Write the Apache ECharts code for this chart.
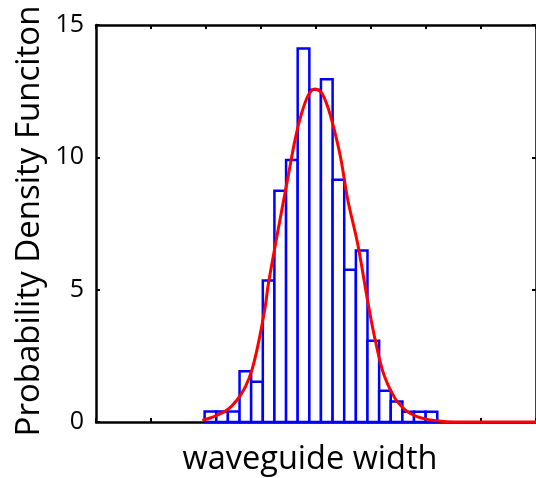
<!DOCTYPE html>
<html>
<head>
<meta charset="utf-8">
<script src="https://cdn.jsdelivr.net/npm/echarts@6/dist/echarts.min.js"></script>
<style>
html,body{margin:0;padding:0;background:#fff;}
#chart{width:536px;height:478px;}
</style>
</head>
<body>
<div id="chart"></div>
<script>
// Histogram bin edges (arbitrary width units, axis ticks at integers)
var binEdges = [1.975, 2.187, 2.398, 2.610, 2.821, 3.033, 3.244, 3.456, 3.667, 3.879, 4.090,
                4.302, 4.513, 4.725, 4.936, 5.148, 5.359, 5.571, 5.782, 5.994, 6.205];
// Histogram densities
var binValues = [0.4, 0.4, 0.4, 1.92, 1.52, 5.35, 8.74, 9.9, 14.11, 12.55,
                 12.95, 9.15, 5.75, 6.48, 3.07, 1.18, 0.77, 0.39, 0.39, 0.39];
// Fitted PDF curve
var curveX = [1.933, 2.144, 2.384, 2.564, 2.715, 2.834, 2.955, 3.076, 3.135, 3.315, 3.495, 3.616,
              3.735, 3.856, 3.977, 4.096, 4.216, 4.337, 4.456, 4.577, 4.757, 4.937, 5.027, 5.117,
              5.207, 5.297, 5.387, 5.477, 5.658, 5.838, 6.018, 6.198, 6.378, 6.739, 8.0];
var curveY = [0.06, 0.2, 0.45, 0.83, 1.33, 1.96, 3.0, 4.35, 5.23, 7.3, 9.3, 10.63,
              11.64, 12.33, 12.58, 12.45, 11.89, 11.0, 9.9, 8.4, 6.74, 4.6, 3.59, 2.71,
              1.96, 1.46, 1.08, 0.77, 0.39, 0.2, 0.1, 0.05, 0.01, 0, 0];
var yTicks = [0, 5, 10, 15];
var xLabel = 'waveguide width';
var yLabel = 'Probability Density Funciton';

var histData = binValues.map(function (v, i) { return [binEdges[i], binEdges[i + 1], v]; });
var curveData = curveX.map(function (x, i) { return [x, curveY[i]]; });

var FONT = '"Open Sans", sans-serif';
var chart = echarts.init(document.getElementById('chart'), null, {renderer: 'canvas'});

var xCommon = {
  type: 'value', min: 0, max: 8, interval: 1,
  axisLine: {show: true, onZero: false, lineStyle: {color: '#000', width: 2.5}},
  axisTick: {show: true, inside: true, length: 4, lineStyle: {color: '#000', width: 2}},
  axisLabel: {show: false}, splitLine: {show: false}
};
var yCommon = {
  type: 'value', min: yTicks[0], max: yTicks[yTicks.length - 1], interval: 5,
  axisLine: {show: true, onZero: false, lineStyle: {color: '#000', width: 2.5}},
  axisTick: {show: true, inside: true, length: 4, lineStyle: {color: '#000', width: 2}},
  splitLine: {show: false}
};

chart.setOption({
  animation: false,
  backgroundColor: '#fff',
  grid: {left: 96, top: 25, width: 444, height: 397, containLabel: false},
  xAxis: [
    Object.assign({}, xCommon, {position: 'bottom'}),
    Object.assign({}, xCommon, {position: 'top'})
  ],
  yAxis: [
    Object.assign({}, yCommon, {position: 'left',
      axisLabel: {show: true, color: '#000', fontSize: 25, fontFamily: FONT, margin: 12}}),
    Object.assign({}, yCommon, {position: 'right', axisLabel: {show: false}})
  ],
  graphic: [
    {type: 'text', x: 310, y: 460,
     style: {text: xLabel, fill: '#000', font: '32.5px ' + FONT, textAlign: 'center', textVerticalAlign: 'middle'}},
    {type: 'text', x: 30, y: 221, rotation: Math.PI / 2,
     style: {text: yLabel, fill: '#000', font: '33px ' + FONT, textAlign: 'center', textVerticalAlign: 'middle'}}
  ],
  series: [
    {
      type: 'custom',
      xAxisIndex: 0, yAxisIndex: 0,
      data: histData,
      renderItem: function (params, api) {
        var p0 = api.coord([api.value(0), 0]);
        var p1 = api.coord([api.value(1), api.value(2)]);
        return {
          type: 'rect',
          shape: {x: p0[0], y: p1[1], width: p1[0] - p0[0], height: p0[1] - p1[1]},
          style: {fill: '#fff', stroke: '#0000ff', lineWidth: 2.5}
        };
      },
      z: 2
    },
    {
      type: 'line',
      xAxisIndex: 0, yAxisIndex: 0,
      data: curveData,
      showSymbol: false, smooth: 0.3,
      lineStyle: {color: '#ff0000', width: 3},
      z: 3
    }
  ]
});
</script>
</body>
</html>
